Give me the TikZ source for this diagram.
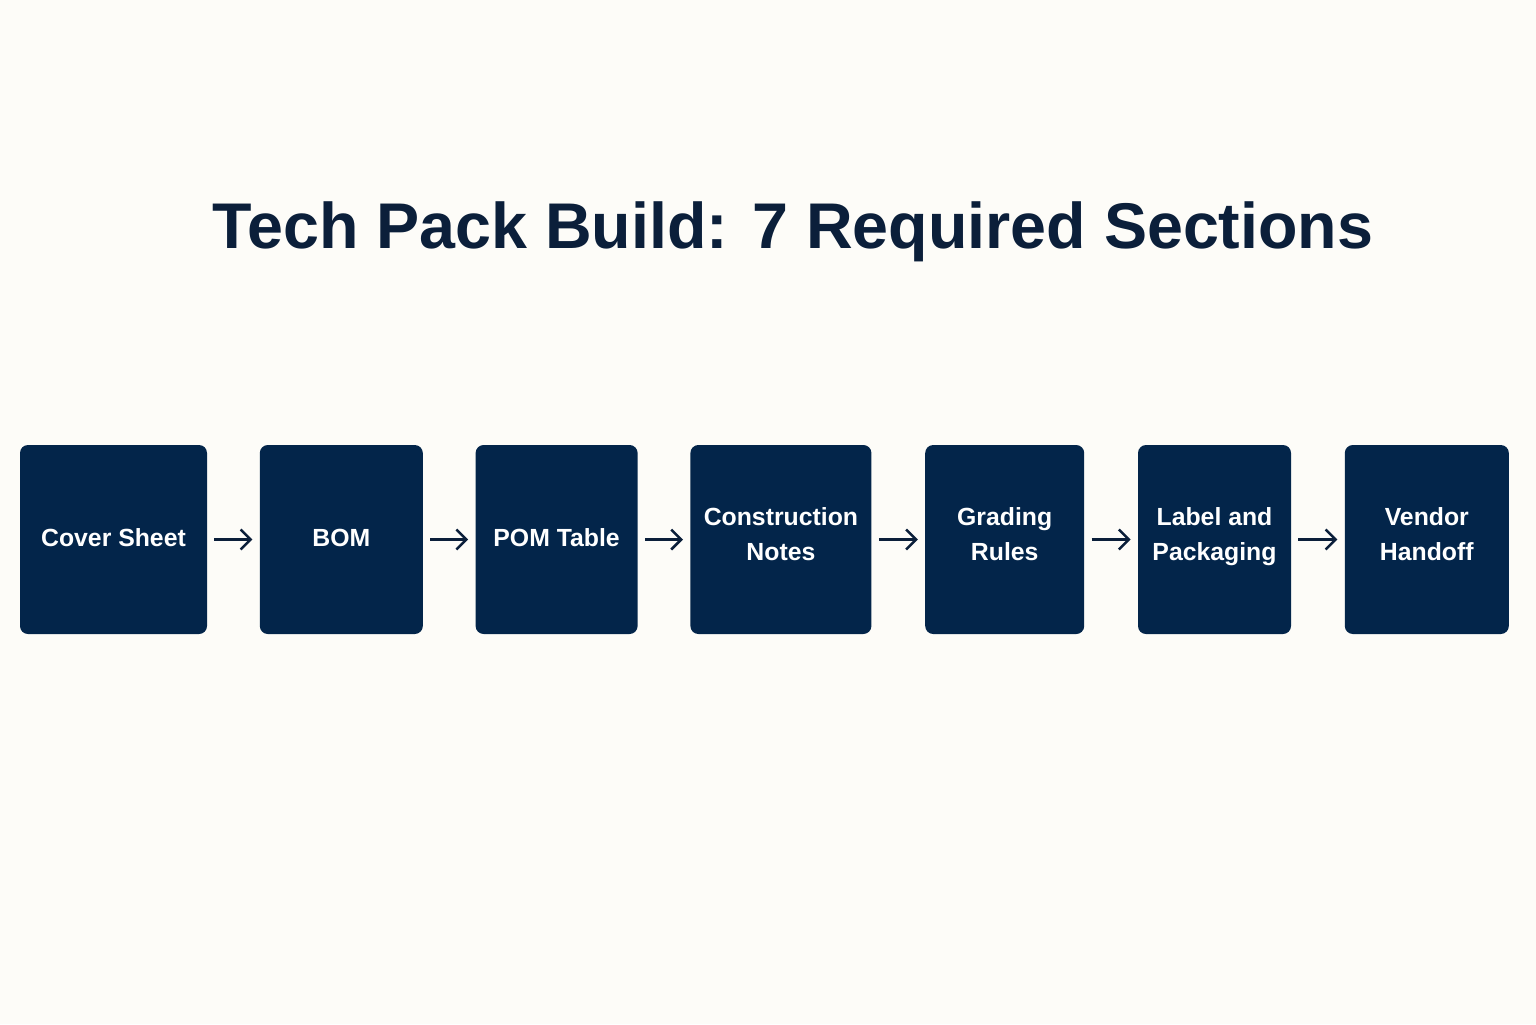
\documentclass[tikz,border=0pt]{standalone}
\usepackage{fontspec}
\setmainfont{Liberation Sans}
\usepackage{tikz}
\usetikzlibrary{positioning, arrows.meta}

\definecolor{paper}{HTML}{FDFCF8}
\definecolor{navy}{HTML}{03254A}
\definecolor{ink}{HTML}{0B1F3A}

\begin{document}
\begin{tikzpicture}[x=0.5pt, y=-0.5pt, node distance=26.5pt,
					section/.style={rectangle, fill=navy, rounded corners=4pt, minimum height=94.5pt, inner sep=0pt, align=center, text=white, font=\fontsize{12.4}{17.5}\selectfont\bfseries, execute at begin node=\strut, execute at end node=\rule[-2.7pt]{0pt}{0pt}},
					arrow/.style={-{Straight Barb[length=5pt, width=10pt, line width=1.25pt]}, line width=1.25pt, draw=ink, shorten <=3.5pt, shorten >=3.5pt},
					title/.style={font=\fontsize{32.3}{40}\selectfont\bfseries, text=ink}
					]
					
					% Background
					\fill[paper] (0,0) rectangle (1536,1024);
					\useasboundingbox (0,0) rectangle (1536,1024);
					
					% Title
					\node[title] (heading) at (793,232) {Tech Pack Build: 7 Required Sections};
					
					% Sections
					\node[section, minimum width=93.5pt] (cover) at (113.5,539.5) {Cover Sheet};
					\node[section, minimum width=81.5pt, right=26pt of cover] (bom) {BOM};
					\node[section, minimum width=81pt, right=26pt of bom] (pom) {POM Table};
					\node[section, minimum width=90.5pt, right=26pt of pom] (construction) {Construction\\Notes};
					\node[section, minimum width=79.5pt, right=26.5pt of construction] (grading) {Grading\\Rules};
					\node[section, minimum width=76.5pt, right=26.5pt of grading] (label) {Label and\\Packaging};
					\node[section, minimum width=82pt, right=26.5pt of label] (vendor) {Vendor\\Handoff};
					
					% Arrows
					\draw[arrow] (cover) -- (bom);
					\draw[arrow] (bom) -- (pom);
					\draw[arrow] (pom) -- (construction);
					\draw[arrow] (construction) -- (grading);
					\draw[arrow] (grading) -- (label);
					\draw[arrow] (label) -- (vendor);
					
				\end{tikzpicture}
\end{document}
